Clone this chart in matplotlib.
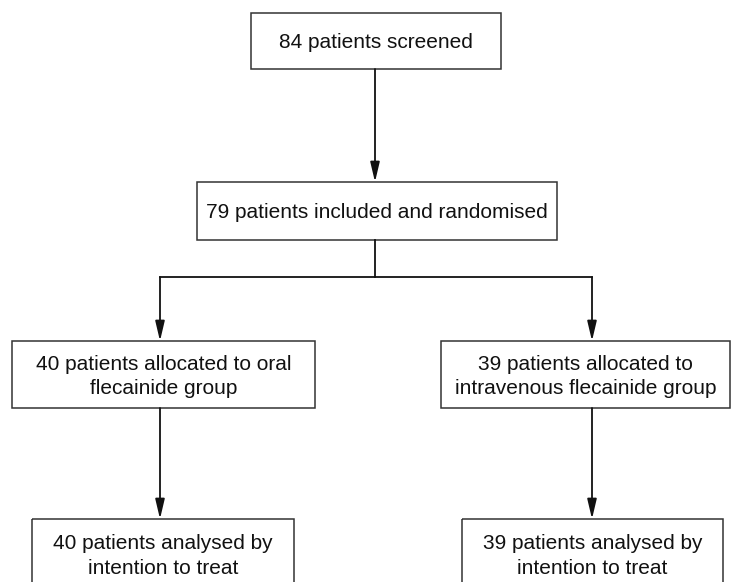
import matplotlib

matplotlib.use("Agg")
import matplotlib.pyplot as plt
from matplotlib.patches import Rectangle

plt.rcParams["font.family"] = ["Liberation Sans", "DejaVu Sans"]

# Texts of the flow-chart boxes (top to bottom, left to right).
screened = "84 patients screened"
randomised = "79 patients included and randomised"
allocated = [
    "40 patients allocated to oral\nflecainide group",
    "39 patients allocated to\nintravenous flecainide group",
]
analysed = [
    "40 patients analysed by\nintention to treat",
    "39 patients analysed by\nintention to treat",
]

LINE = "#333333"

fig = plt.figure(figsize=(7.37, 5.82), dpi=100)
ax = fig.add_axes([0, 0, 1, 1])
ax.set_xlim(0, 737)
ax.set_ylim(582, 0)
ax.axis("off")


def box(x0, y0, x1, y1, text, ty=None):
    ax.add_patch(Rectangle((x0, y0), x1 - x0, y1 - y0, fill=False,
                           edgecolor=LINE, linewidth=1.1))
    ax.text((x0 + x1) / 2, ty if ty is not None else (y0 + y1) / 2 + 2, text,
            ha="center", va="center", fontsize=15, color="#111111",
            linespacing=1.4)


def arrow(x, y0, y1):
    ax.annotate("", xy=(x, y1), xytext=(x, y0),
                arrowprops=dict(arrowstyle="-|>,head_length=0.85,head_width=0.2",
                                color="#111111", lw=1.3, mutation_scale=14,
                                shrinkA=0, shrinkB=0))


box(251, 13, 501, 69, screened)
arrow(375, 69, 182)
box(197, 182, 557, 240, randomised)

# split
ax.plot([375, 375], [240, 277], color="#111111", lw=1.3)
ax.plot([160, 592], [277, 277], color="#111111", lw=1.3)

centres = [160, 592]
alloc_x = [(12, 315), (441, 730)]
anal_x = [(32, 294), (462, 723)]
for cx, (ax0, ax1), (bx0, bx1), t1, t2 in zip(centres, alloc_x, anal_x,
                                              allocated, analysed):
    arrow(cx, 277, 341)
    box(ax0, 341, ax1, 408, t1)
    arrow(cx, 408, 519)
    box(bx0, 519, bx1, 600, t2, ty=556)

fig.savefig("out.png", dpi=100)
